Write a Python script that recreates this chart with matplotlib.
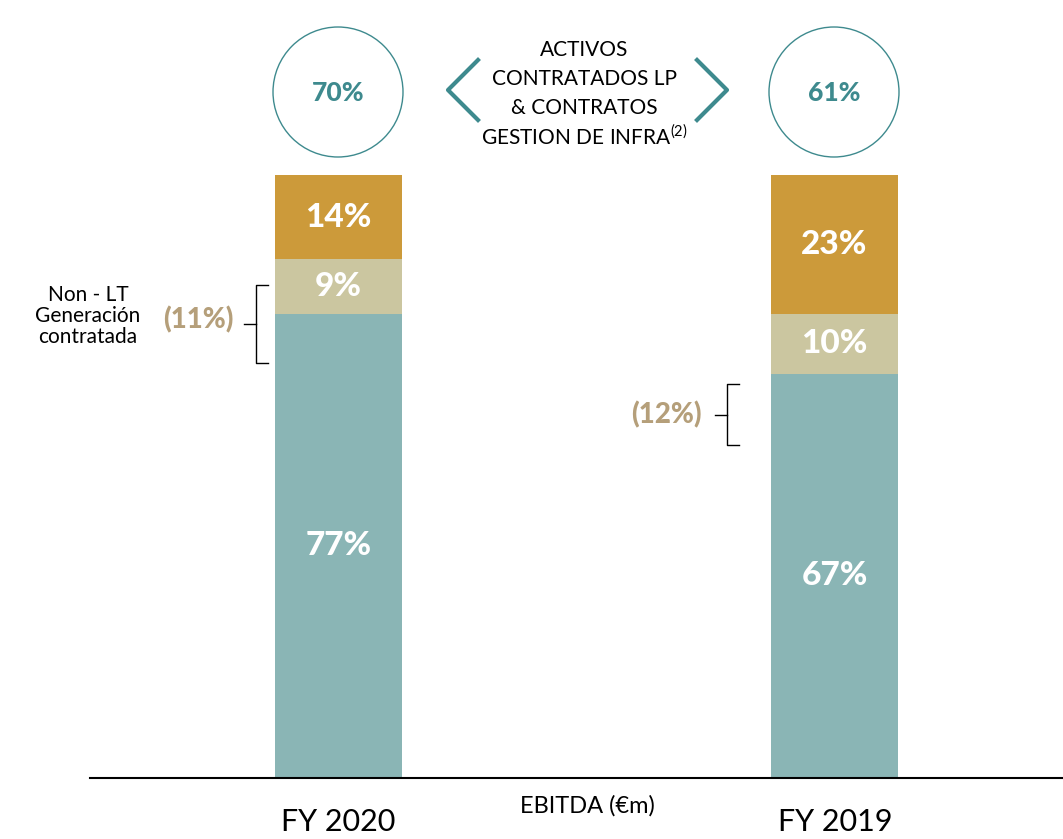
import matplotlib.pyplot as plt
from matplotlib.patches import Circle

years = ["FY 2020", "FY 2019"]
contracted = [77, 67]
non_lt = [9, 10]
other = [14, 23]
non_lt_share = ["(11%)", "(12%)"]
circle_pct = ["70%", "61%"]

TEAL = "#8AB5B5"
TAN = "#CBC6A0"
GOLD = "#CC9A3A"
DARK_TEAL = "#3E8A8E"
LABEL_TAN = "#B59F7A"

plt.rcParams["font.family"] = ["Lato", "DejaVu Sans"]

W, H = 1063, 839
fig = plt.figure(figsize=(W / 100, H / 100), dpi=100)

# bar axes: baseline at y=778 px, 100% at y=175 px
ax = fig.add_axes([90 / W, (H - 778) / H, (W - 90) / W, 603 / H])
x = [0, 1]
width = 127 / 496
ax.bar(x, contracted, width, color=TEAL)
ax.bar(x, non_lt, width, bottom=contracted, color=TAN)
bottom3 = [a + b for a, b in zip(contracted, non_lt)]
ax.bar(x, other, width, bottom=bottom3, color=GOLD)

for vals, bots in [(contracted, [0, 0]), (non_lt, contracted), (other, bottom3)]:
    for xi, v, b in zip(x, vals, bots):
        ax.text(xi, b + v / 2, f"{v}%", ha="center", va="center",
                color="white", fontsize=24, fontweight="black")

ax.set_xlim(-(338.5 - 90) / 496, 1 + (1063 - 834.5) / 496)
ax.set_ylim(0, 100)
ax.axis("off")

# overlay axes in pixel coordinates for annotations
ov = fig.add_axes([0, 0, 1, 1])
ov.set_xlim(0, W)
ov.set_ylim(H, 0)
ov.axis("off")

ov.plot([90, 1063], [778, 778], color="black", lw=1.5)
ov.text(338, 822, years[0], ha="center", va="center", fontsize=22)
ov.text(835, 822, years[1], ha="center", va="center", fontsize=22)
ov.text(587, 806, "EBITDA (€m)", ha="center", va="center", fontsize=17)

for cx, txt in zip([338, 834], circle_pct):
    ov.add_patch(Circle((cx, 92), 65, fill=False, edgecolor=DARK_TEAL, lw=1))
    ov.text(cx, 93, txt, ha="center", va="center", color=DARK_TEAL,
            fontsize=19, fontweight="black")

ov.plot([478, 448, 478], [60, 90, 120], color=DARK_TEAL, lw=3)
ov.plot([697, 727, 697], [60, 90, 120], color=DARK_TEAL, lw=3)
for ty, line in zip([50, 79, 108], ["ACTIVOS", "CONTRATADOS LP", "& CONTRATOS"]):
    ov.text(584, ty, line, ha="center", va="center", fontsize=15)
ov.text(584, 137, r"GESTION DE INFRA$^{\mathregular{(2)}}$", ha="center",
        va="center", fontsize=15)

# brackets
def bracket(xv, y0, y1):
    ym = (y0 + y1) / 2
    ov.plot([xv + 12, xv, xv, xv + 12], [y0, y0, y1, y1], color="black", lw=1)
    ov.plot([xv - 12, xv], [ym, ym], color="black", lw=1)
    return ym

ym = bracket(256, 285, 363)
ov.text(233, ym - 4, non_lt_share[0], ha="right", va="center", color=LABEL_TAN,
        fontsize=20, fontweight="black")
ov.text(88, 316, "Non - LT\nGeneración\ncontratada", ha="center", va="center",
        fontsize=15, linespacing=1.05)

ym = bracket(727, 384, 445)
ov.text(702, ym, non_lt_share[1], ha="right", va="center", color=LABEL_TAN,
        fontsize=20, fontweight="black")

fig.savefig("out.png", dpi=100)
